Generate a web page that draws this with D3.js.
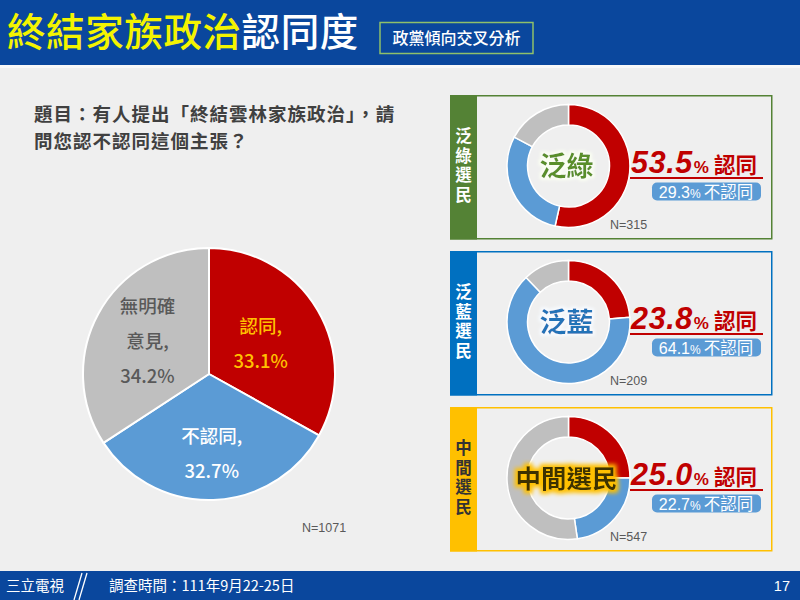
<!DOCTYPE html>
<html><head><meta charset="utf-8">
<script src="https://cdn.jsdelivr.net/npm/d3@7"></script>
<style>
html,body{margin:0;padding:0;background:#efefef;}
svg{display:block;}
text{font-family:"Noto Sans CJK TC","Noto Sans",sans-serif;}
</style></head>
<body>
<svg id="c" width="800" height="600"></svg>
<script>
// ---- data ----
const titleYellow = "終結家族政治";
const titleWhite = "認同度";
const subtitle = "政黨傾向交叉分析";
const questionLines = ["題目：有人提出「終結雲林家族政治」，請", "問您認不認同這個主張？"];
const pieCategories = ["認同", "不認同", "無明確意見"];
const pieValues = [33.1, 32.7, 34.2];
const pieLabelLines = [["認同,"], ["不認同,"], ["無明確", "意見,"]];
const totalN = 1071;
const groupNames = ["泛綠", "泛藍", "中間選民"];
const groupTitles = ["泛綠選民", "泛藍選民", "中間選民"];
const agreeValues = [53.5, 23.8, 25.0];
const disagreeValues = [29.3, 64.1, 22.7];
const noOpinionValues = [17.2, 12.1, 52.3];
const groupN = [315, 209, 547];
const footerSource = "三立電視";
const footerDate = "調查時間：111年9月22-25日";
const pageNo = "17";

// ---- styles ----
const BLUE_BAND = "#0a479d";
const sliceColors = ["#c00000", "#5b9bd5", "#bfbfbf"];
const pieLabelColors = ["#ffc000", "#ffffff", "#595959"];
const groupColors = ["#548235", "#0070c0", "#ffc000"];
const groupTextColors = ["#5a8f2c", "#2473b8", "#3d3300"];
const groupTitleTextColors = ["#ffffff", "#ffffff", "#333333"];
const CJK = '"Noto Sans CJK TC","Noto Sans",sans-serif';
const LAT = '"Liberation Sans","Noto Sans CJK TC",sans-serif';

const svg = d3.select("#c");
const defs = svg.append("defs");
function glow(id, color, r, blur) {
  const f = defs.append("filter").attr("id", id).attr("x", "-20%").attr("y", "-40%").attr("width", "140%").attr("height", "180%");
  f.append("feMorphology").attr("in", "SourceAlpha").attr("operator", "dilate").attr("radius", r).attr("result", "d");
  f.append("feGaussianBlur").attr("in", "d").attr("stdDeviation", blur).attr("result", "b");
  f.append("feFlood").attr("flood-color", color).attr("result", "c");
  f.append("feComposite").attr("in", "c").attr("in2", "b").attr("operator", "in").attr("result", "g");
  const m = f.append("feMerge");
  m.append("feMergeNode").attr("in", "g");
  m.append("feMergeNode").attr("in", "SourceGraphic");
}
glow("g0", "#fbfff2", 2, 1.5);
glow("g1", "#f7fbff", 2, 1.5);
glow("g2", "#ffc000", 3, 2);

// background
svg.append("rect").attr("width", 800).attr("height", 600).attr("fill", "#efefef");

// header
svg.append("rect").attr("x", 0).attr("y", 0).attr("width", 800).attr("height", 65).attr("fill", BLUE_BAND);
svg.append("rect").attr("x", 0).attr("y", 65).attr("width", 800).attr("height", 3).attr("fill", "#f8f8f8");
const tt = svg.append("text").attr("x", 7).attr("y", 45.5).style("font-family", CJK).style("font-size", "38.5px").style("font-weight", 500)
  .style("letter-spacing", "0.6px");
tt.append("tspan").attr("fill", "#f4f400").text(titleYellow);
tt.append("tspan").attr("fill", "#ffffff").text(titleWhite);
svg.append("rect").attr("x", 380).attr("y", 22.5).attr("width", 153).attr("height", 31).attr("fill", "none").attr("stroke", "#8fc06a").attr("stroke-width", 1.5);
svg.append("text").attr("x", 456.5).attr("y", 44).attr("text-anchor", "middle").attr("fill", "#fff")
  .style("font-family", CJK).style("font-size", "16px").style("font-weight", 500).text(subtitle);

// question
questionLines.forEach((l, i) => {
  svg.append("text").attr("x", 34).attr("y", 120.5 + i * 27).attr("fill", "#404040")
    .style("font-family", CJK).style("font-size", "18.5px").style("font-weight", 700).style("letter-spacing", "1px").text(l);
});

// main pie
const cx = 209, cy = 374, R = 126;
const pie = d3.pie().sort(null).value(d => d);
const arcs = pie(pieValues);
const arc = d3.arc().innerRadius(0).outerRadius(R);
const gp = svg.append("g").attr("transform", `translate(${cx},${cy})`);
gp.selectAll("path").data(arcs).join("path").attr("d", arc)
  .attr("fill", (d, i) => sliceColors[i]).attr("stroke", "#fff").attr("stroke-width", 2).attr("stroke-linejoin", "round");
const labelR = [60, 80, 70];
const fmt = d3.format(".1f");
arcs.forEach((a, i) => {
  const lines = pieLabelLines[i].concat([fmt(pieValues[i]) + "%"]);
  const c = d3.arc().innerRadius(labelR[i]).outerRadius(labelR[i]).centroid(a);
  const lh = 35;
  const y0 = c[1] - (lines.length - 1) * lh / 2 + 7;
  lines.forEach((l, k) => {
    gp.append("text").attr("x", c[0]).attr("y", y0 + k * lh).attr("text-anchor", "middle")
      .attr("fill", pieLabelColors[i]).style("font-family", CJK).style("font-size", "18.5px").style("font-weight", 500).text(l);
  });
});
svg.append("text").attr("x", 302).attr("y", 532).attr("fill", "#595959").style("font-family", LAT).style("font-size", "12.5px").text("N=" + totalN);

// panels
const panelTop = [95, 251, 407];
const panelH = 143;
const donutArc = d3.arc().innerRadius(41).outerRadius(61.5);
groupNames.forEach((name, i) => {
  const y = panelTop[i];
  const g = svg.append("g").attr("transform", `translate(0,${y})`);
  g.append("rect").attr("x", 450.75).attr("y", 0.75).attr("width", 321).attr("height", panelH).attr("fill", "#efefef")
    .attr("stroke", groupColors[i]).attr("stroke-width", 1.5);
  g.append("rect").attr("x", 450).attr("y", 0).attr("width", 27).attr("height", panelH + 1.5).attr("fill", groupColors[i]);
  const mid = panelH / 2;
  g.append("text").attr("x", 463.5).attr("y", mid).attr("text-anchor", "middle")
    .style("writing-mode", "vertical-rl").style("letter-spacing", "3px")
    .attr("fill", groupTitleTextColors[i])
    .style("font-family", CJK).style("font-size", "16.5px").style("font-weight", 700).text(groupTitles[i]);
  const dcx = 568.5, dcy = mid - 0.5;
  const dg = g.append("g").attr("transform", `translate(${dcx},${dcy})`);
  dg.selectAll("path").data(pie([agreeValues[i], disagreeValues[i], noOpinionValues[i]])).join("path")
    .attr("d", donutArc).attr("fill", (d, k) => sliceColors[k]).attr("stroke", "#fff").attr("stroke-width", 1.5);
  dg.append("text").attr("x", -2).attr("y", 9.5).attr("text-anchor", "middle").attr("fill", groupTextColors[i])
    .attr("filter", `url(#g${i})`)
    .style("font-family", CJK).style("font-size", i === 2 ? "25.5px" : "27px").style("font-weight", 700).text(name);
  // agree label
  const lt = g.append("text").attr("x", 757).attr("y", mid + 6).attr("text-anchor", "end").attr("fill", "#c00000");
  lt.append("tspan").style("font-family", LAT).style("font-size", "30.5px").style("font-weight", 700).style("font-style", "italic")
    .style("letter-spacing", "0.6px").text(fmt(agreeValues[i]));
  lt.append("tspan").style("font-family", LAT).style("font-size", "17px").style("font-weight", 700).attr("dx", 1).text("%");
  lt.append("tspan").style("font-family", CJK).style("font-size", "21.5px").style("font-weight", 700).attr("dx", 5).text("認同");
  g.append("line").attr("x1", 630).attr("x2", 763).attr("y1", mid + 11.5).attr("y2", mid + 11.5).attr("stroke", "#c00000").attr("stroke-width", 2);
  g.append("rect").attr("x", 652).attr("y", mid + 16).attr("width", 109).attr("height", 18).attr("rx", 5).attr("fill", "#5b9bd5");
  const pt = g.append("text").attr("x", 706).attr("y", mid + 31).attr("text-anchor", "middle").attr("fill", "#fff");
  pt.append("tspan").style("font-family", LAT).style("font-size", "16px").text(fmt(disagreeValues[i]));
  pt.append("tspan").style("font-family", LAT).style("font-size", "12px").text("%");
  pt.append("tspan").style("font-family", CJK).style("font-size", "16.5px").attr("dx", 3).text("不認同");
  g.append("text").attr("x", 610).attr("y", 134).attr("fill", "#595959").style("font-family", LAT).style("font-size", "12.5px").text("N=" + groupN[i]);
});

// footer
svg.append("rect").attr("x", 0).attr("y", 571).attr("width", 800).attr("height", 29).attr("fill", BLUE_BAND);
svg.append("text").attr("x", 6).attr("y", 591).attr("fill", "#fff").style("font-family", CJK).style("font-size", "14.5px").text(footerSource);
[0, 5].forEach(dx => {
  svg.append("line").attr("x1", 82 + dx).attr("y1", 573).attr("x2", 74 + dx).attr("y2", 600).attr("stroke", "#fff").attr("stroke-width", 1.3);
});
svg.append("text").attr("x", 109).attr("y", 591).attr("fill", "#fff").style("font-family", CJK).style("font-size", "14.5px").text(footerDate);
svg.append("text").attr("x", 790).attr("y", 591).attr("text-anchor", "end").attr("fill", "#fff").style("font-family", LAT).style("font-size", "14.5px").text(pageNo);
</script>
</body></html>
